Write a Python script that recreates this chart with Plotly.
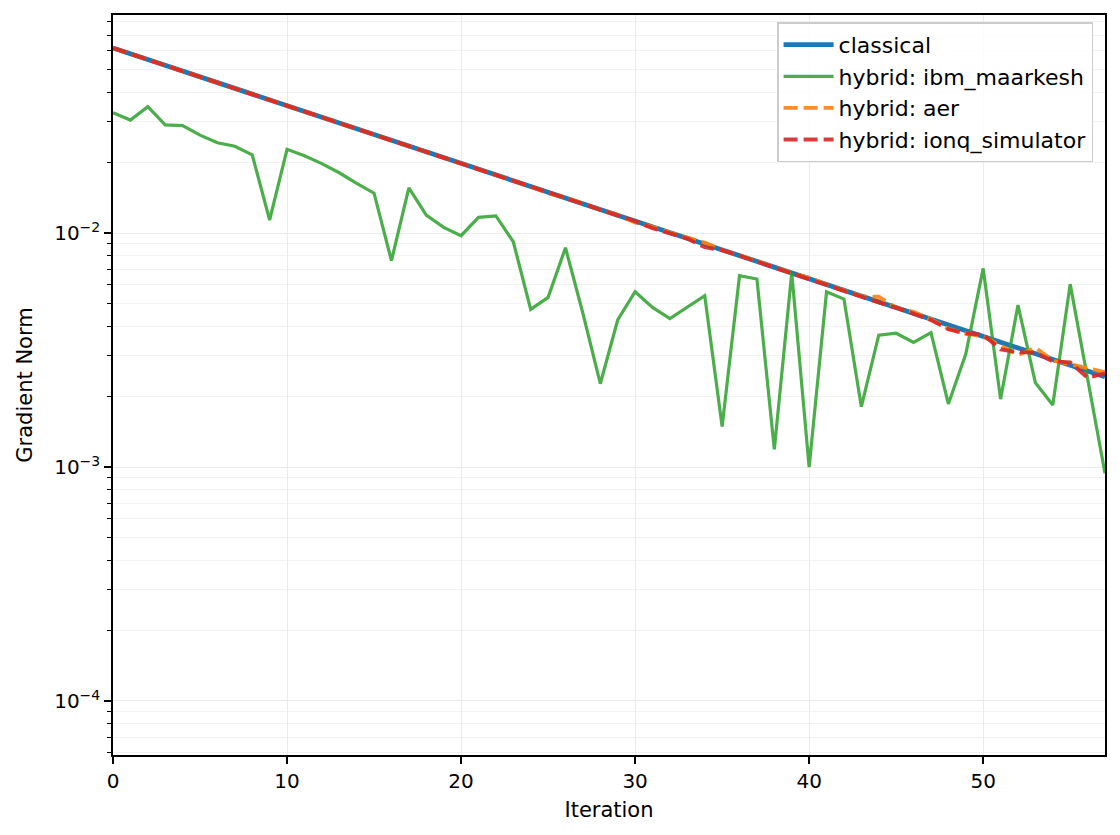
import plotly.graph_objects as go

iterations = list(range(58))

classical = [0.0618, 0.05839, 0.05515, 0.05212, 0.04925, 0.04652, 0.04395, 0.04153, 0.03923, 0.03707,
             0.03502, 0.03309, 0.03126, 0.02953, 0.02790, 0.02636, 0.02491, 0.02353, 0.02223, 0.02101,
             0.01985, 0.01875, 0.01772, 0.01674, 0.01581, 0.01494, 0.01412, 0.01334, 0.01260, 0.01190,
             0.01124, 0.01062, 0.01004, 0.00948, 0.00896, 0.00846, 0.00800, 0.00755, 0.00714, 0.00674,
             0.00637, 0.00602, 0.00569, 0.00537, 0.00508, 0.00480, 0.00453, 0.00428, 0.00404, 0.00382,
             0.00361, 0.00341, 0.00322, 0.00304, 0.00288, 0.00272, 0.00257, 0.00243]

ibm_maarkesh = [0.0327, 0.0304, 0.0347, 0.0290, 0.0288, 0.0262, 0.0243, 0.0235, 0.0216, 0.01137,
                0.0228, 0.0214, 0.0198, 0.0181, 0.0163, 0.0148, 0.00762, 0.0156, 0.01193, 0.01057,
                0.00974, 0.01167, 0.01183, 0.00918, 0.00472, 0.00531, 0.00865, 0.00454, 0.00227, 0.00425,
                0.00561, 0.00481, 0.00431, 0.00484, 0.00540, 0.00149, 0.00657, 0.00636, 0.00119, 0.00676,
                0.000998, 0.00561, 0.00522, 0.00181, 0.00366, 0.00373, 0.00341, 0.00375, 0.00186, 0.00304,
                0.00706, 0.00195, 0.00492, 0.00229, 0.00184, 0.00605, 0.00235, 0.00094]

aer = [0.0618, 0.05839, 0.05515, 0.05212, 0.04925, 0.04652, 0.04395, 0.04153, 0.03923, 0.03707,
       0.03502, 0.03309, 0.03126, 0.02953, 0.02790, 0.02636, 0.02491, 0.02353, 0.02223, 0.02101,
       0.01995, 0.01880, 0.01772, 0.01674, 0.01581, 0.01480, 0.01420, 0.01334, 0.01265, 0.01195,
       0.01110, 0.01062, 0.01004, 0.00955, 0.00910, 0.00846, 0.00805, 0.00760, 0.00714, 0.00674,
       0.00645, 0.00602, 0.00569, 0.00537, 0.00534, 0.00480, 0.00460, 0.00428, 0.00390, 0.00372,
       0.00362, 0.00330, 0.00301, 0.00323, 0.00285, 0.00275, 0.00265, 0.00254]

ionq_simulator = [0.0618, 0.05839, 0.05515, 0.05212, 0.04925, 0.04652, 0.04395, 0.04153, 0.03923, 0.03707,
                  0.03502, 0.03309, 0.03126, 0.02953, 0.02790, 0.02636, 0.02491, 0.02353, 0.02223, 0.02101,
                  0.01985, 0.01875, 0.01772, 0.01674, 0.01581, 0.01494, 0.01412, 0.01334, 0.01260, 0.01200,
                  0.01124, 0.01050, 0.01000, 0.00948, 0.00870, 0.00846, 0.00800, 0.00755, 0.00714, 0.00674,
                  0.00637, 0.00602, 0.00569, 0.00537, 0.00505, 0.00480, 0.00453, 0.00425, 0.00388, 0.00372,
                  0.00368, 0.00318, 0.00310, 0.00308, 0.00283, 0.00280, 0.00241, 0.00251]

x_ticks = [0, 10, 20, 30, 40, 50]
y_ticks = [1e-4, 1e-3, 1e-2]
y_tick_text = ["10<sup>−4</sup>", "10<sup>−3</sup>", "10<sup>−2</sup>"]
y_minor = [m * 10 ** e for e in (-5, -4, -3, -2) for m in range(2, 10)]

FONT = "DejaVu Sans"

fig = go.Figure()
fig.add_trace(go.Scatter(x=iterations, y=classical, mode="lines", name="classical",
                         line=dict(color="#1f77b4", width=4.8)))
fig.add_trace(go.Scatter(x=iterations, y=ibm_maarkesh, mode="lines", name="hybrid: ibm_maarkesh",
                         line=dict(color="rgba(44,160,44,0.85)", width=3.2)))
fig.add_trace(go.Scatter(x=iterations, y=aer, mode="lines", name="hybrid: aer",
                         line=dict(color="rgba(255,127,14,0.9)", width=3.9, dash="14px,6px")))
fig.add_trace(go.Scatter(x=iterations, y=ionq_simulator, mode="lines", name="hybrid: ionq_simulator",
                         line=dict(color="rgba(214,39,40,0.9)", width=3.9, dash="14px,6px")))

fig.update_layout(
    width=1120, height=835,
    margin=dict(l=113, r=15, t=15, b=80),
    paper_bgcolor="white", plot_bgcolor="white",
    font=dict(family=FONT, size=20, color="black"),
    showlegend=True,
    legend=dict(x=0.988, y=0.99, xanchor="right", yanchor="top",
                bgcolor="rgba(255,255,255,0.8)", bordercolor="#cccccc", borderwidth=1.5,
                font=dict(family=FONT, size=22, color="black"),
                itemwidth=50, tracegroupgap=0),
)

fig.update_xaxes(
    range=[0, 57], tickvals=x_ticks, ticks="outside", ticklen=7, tickwidth=1.5, tickcolor="black",
    showline=True, linecolor="black", linewidth=1.5, mirror=True,
    showgrid=True, gridcolor="#ebebeb", gridwidth=1, zeroline=False,
    tickfont=dict(family=FONT, size=20),
    title=dict(text="Iteration", font=dict(family=FONT, size=21), standoff=11),
)
fig.update_yaxes(
    type="log", range=[-4.231, -1.068], tickvals=y_ticks, ticktext=y_tick_text,
    ticks="outside", ticklen=7, tickwidth=1.5, tickcolor="black",
    showline=True, linecolor="black", linewidth=1.5, mirror=True,
    showgrid=True, gridcolor="#ebebeb", gridwidth=1, zeroline=False,
    minor=dict(tickvals=y_minor, ticks="outside", ticklen=4, tickwidth=1.2, tickcolor="black",
               showgrid=True, gridcolor="#f2f2f2", gridwidth=1),
    tickfont=dict(family=FONT, size=20),
    title=dict(text="Gradient Norm", font=dict(family=FONT, size=21), standoff=16),
)

fig.write_html("out.html")
